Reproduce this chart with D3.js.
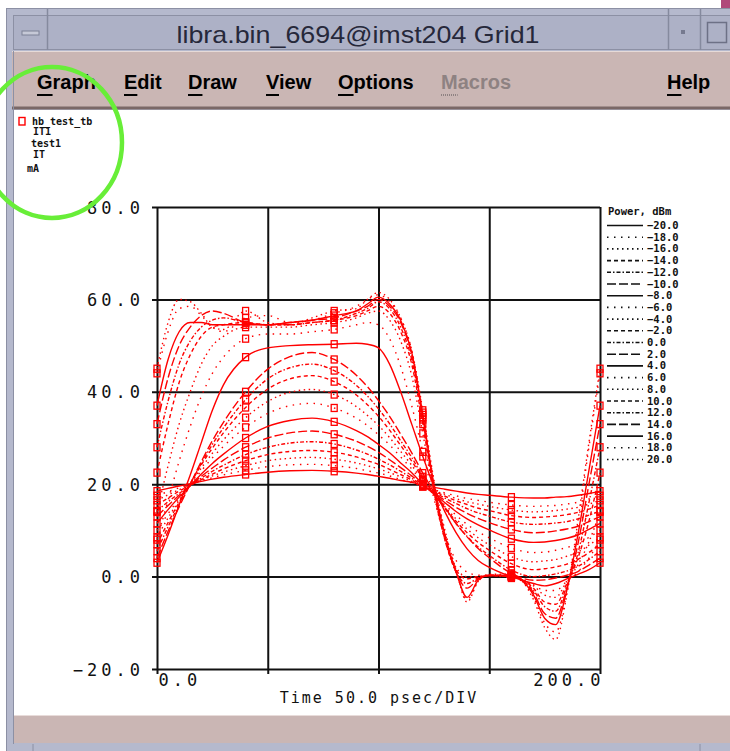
<!DOCTYPE html>
<html lang="en">
<head>
<meta charset="UTF-8">
<title>libra.bin_6694@imst204 Grid1</title>
<script src="https://cdn.jsdelivr.net/npm/d3@7"></script>
<style>
  body { margin: 0; background: #fff; }
  svg { display: block; }
  .mono { font-family: "DejaVu Sans Mono", monospace; font-weight: bold; fill: #111; }
</style>
</head>
<body>
<script>
// time axis (psec) shared by every curve
const timePs = [0,5,10,15,20,25,30,40,50,60,70,80,90,95,100,105,110,115,120,125,130,135,140,145,150,160,170,175,180,185,190,195,200];
// swept input power, dBm
const powerDbm = [-20,-18,-16,-14,-12,-10,-8,-6,-4,-2,0,2,4,6,8,10,12,14,16,18,20];
// IT current (mA), one row per power
const currentMA = [
  [18.5,19.1,19.6,20.1,20.6,21.1,21.5,22.1,22.6,22.9,23.0,22.8,22.4,22.1,21.7,21.3,20.8,20.4,19.8,19.3,18.9,18.5,18.1,17.8,17.6,17.2,17.0,17.0,17.2,17.3,17.6,18.0,18.5],
  [17.5,18.4,19.2,19.9,20.7,21.4,22.0,23.0,23.8,24.2,24.3,24.0,23.4,22.9,22.4,21.8,21.0,20.3,19.5,18.8,18.1,17.5,16.9,16.5,16.1,15.5,15.2,15.3,15.4,15.7,16.1,16.8,17.5],
  [16.5,17.7,18.8,19.8,20.9,21.8,22.6,24.0,25.1,25.6,25.8,25.4,24.6,24.0,23.3,22.5,21.6,20.6,19.5,18.6,17.8,16.9,16.2,15.7,15.2,14.4,14.0,14.1,14.3,14.6,15.0,15.7,16.5],
  [15.5,17.0,18.5,19.7,21.0,22.2,23.3,25.1,26.4,27.1,27.3,26.9,25.9,25.1,24.3,23.2,22.1,20.9,19.6,18.5,17.4,16.4,15.6,14.8,14.3,13.2,12.8,12.9,13.1,13.4,13.9,14.6,15.5],
  [14.2,16.2,18.0,19.6,21.3,22.8,24.1,26.4,28.0,28.9,29.2,28.7,27.4,26.5,25.4,24.2,22.8,21.3,19.7,18.3,17.0,15.8,14.7,13.8,13.1,11.8,11.3,11.4,11.6,11.9,12.5,13.3,14.2],
  [13.0,15.4,17.6,19.7,21.7,23.5,25.2,28.0,30.0,31.1,31.5,30.8,29.3,28.2,26.9,25.3,23.6,21.8,19.8,18.1,16.5,15.0,13.7,12.6,11.7,10.2,9.5,9.6,9.9,10.3,10.9,11.9,13.0],
  [11.5,14.5,17.2,19.7,22.2,24.5,26.5,30.0,32.5,33.8,34.3,33.5,31.6,30.3,28.6,26.8,24.6,22.5,20.0,17.9,16.0,14.1,12.5,11.2,10.1,8.2,7.4,7.5,7.8,8.3,9.0,10.2,11.5],
  [10.0,13.6,16.9,19.9,22.9,25.7,28.2,32.3,35.3,37.0,37.5,36.5,34.3,32.7,30.7,28.5,25.9,23.3,20.4,17.8,15.5,13.3,11.3,9.7,8.4,6.2,5.2,5.3,5.7,6.3,7.1,8.5,10.0],
  [8.5,12.7,16.5,20.0,23.5,26.7,29.6,34.4,37.9,39.9,40.5,39.4,36.8,34.9,32.7,30.1,27.1,24.1,20.7,17.7,15.1,12.5,10.3,8.4,6.9,4.3,3.2,3.4,3.7,4.4,5.3,6.8,8.5],
  [7.0,11.7,16.1,20.1,24.2,27.8,31.1,36.6,40.6,42.8,43.5,42.2,39.3,37.2,34.7,31.7,28.4,25.0,21.2,17.9,14.9,12.0,9.5,7.4,5.7,2.8,1.5,1.7,2.1,2.7,3.7,5.2,7.0],
  [5.5,10.8,15.6,20.1,24.5,28.6,32.2,38.3,42.8,45.2,46.0,44.6,41.4,39.1,36.3,33.1,29.4,25.8,21.6,17.9,14.7,11.5,8.7,6.4,4.6,1.4,0.0,0.2,0.6,1.2,2.2,3.7,5.5],
  [4.0,9.8,15.1,20.0,24.9,29.4,33.4,40.0,44.9,47.6,48.5,47.0,43.6,41.1,38.1,34.7,30.8,26.8,22.4,18.4,15.0,11.5,8.6,6.1,4.1,0.7,-0.8,-0.7,-0.3,0.3,1.1,2.5,4.0],
  [3.0,9.0,15.5,22.0,29.0,36.0,41.5,47.5,49.5,50.0,50.2,50.3,50.5,50.3,49.5,46.0,40.0,33.0,26.0,19.5,14.0,9.5,6.0,3.5,2.0,0.0,-1.5,-2.0,-1.5,-0.5,0.5,1.5,3.0],
  [8,16.5,25,32.5,39,44,47.5,51.5,52.5,52.5,53,53.5,54.5,55,54.5,51.5,45.5,37,27,17,9,3.5,1,0.3,0.2,-0.3,-1.8,-3,-3,-1,1,4,8],
  [14,24,33,40,46,50,52,54,54,54,54.5,55,56,57,57.5,55.5,51,43.5,31,18,8,2,0,0,0.3,0,-2,-4,-4.5,-1,2.5,7.5,14],
  [22.5,33,42,48,52,54,54.5,55,54.5,54.5,55,55.5,56.5,57.5,58.5,57,53,46,33,18.5,8,1.5,-0.5,0,0.2,0,-2.5,-5.5,-6,-1.5,4,12,22.5],
  [28,38,46,51,54,55.5,56,55,54.5,54.5,55,55.5,57,58,59.5,58,54,47,34,19,8,1,-1.5,-0.3,0.2,0,-3,-6.5,-7.5,-2,5,16,28],
  [33,43,50,54,56.5,57.5,57,55,54.5,55,55.5,56,57.5,58.5,60,58.5,55,48,34.5,19.5,8.5,1,-2.5,-0.5,0.3,0.2,-3.5,-8,-9,-2.5,7,20,33],
  [37,47,53,55,55,54.5,54.5,54.5,54.5,55,55.5,56.5,57.5,59,60.5,59,55.5,48.5,35,20,9,1,-4.5,-0.8,0.3,0.2,-4,-9,-10.4,-3,9,23,37],
  [44,53,58,58.5,56.5,54,53,56,56.5,55,55.5,57,58.5,60,61,59.5,56,49,35.5,20.5,9.5,1.5,-5,-1,0.3,0.3,-4.5,-10,-12,-3.5,11,28,44],
  [45,55,60,59.5,57,54,53.5,57.5,55,54.5,56,57.5,58,60,61.5,60,56,49,36,21,10,1.5,-5.5,-1,0.5,0.5,-5,-11,-13.6,-4,12,29,45]
];
const markerTimes = [0,40,80,120,160,200];
const yTicks = [-20,0,20,40,60,80];
const xTicks = [0,50,100,150,200];
const menuItems = ["Graph","Edit","Draw","View","Options","Macros","Help"];
const traceInfo = ["hb_test_tb","IT1","test1","IT","mA"];

// line style cycle used by the plotter
const dashes = ["", "1.5,5.5", "1.5,3.5", "4,3", "4,2,1.5,2", "9,3"];

const svg = d3.select("body").append("svg").attr("width", 730).attr("height", 751);

// ---- window chrome ----
svg.append("rect").attr("width", 730).attr("height", 751).attr("fill", "#fff");
svg.append("rect").attr("x", 721).attr("y", 0).attr("width", 9).attr("height", 22).attr("fill", "#b0487a");
svg.append("rect").attr("x", 6.5).attr("y", 8.5).attr("width", 730).attr("height", 745)
    .attr("fill", "#b5b9cd").attr("stroke", "#8c90a4");
svg.append("rect").attr("x", 13.5).attr("y", 15.5).attr("width", 720).attr("height", 34)
    .attr("fill", "#adb1c6").attr("stroke", "#8c90a4");
[47, 668, 700].forEach(function(px){
    svg.append("line").attr("x1", px + .5).attr("x2", px + .5).attr("y1", 9).attr("y2", 50)
        .attr("stroke", "#858a9e").attr("stroke-width", 1.5);
});
svg.append("rect").attr("x", 22).attr("y", 31).attr("width", 17).attr("height", 4)
    .attr("fill", "#c6c9d7").attr("stroke", "#7d8196");
svg.append("rect").attr("x", 681).attr("y", 30).attr("width", 4).attr("height", 4).attr("fill", "#767a8f");
svg.append("rect").attr("x", 707.5).attr("y", 22.5).attr("width", 19).attr("height", 20)
    .attr("fill", "none").attr("stroke", "#6d7186").attr("stroke-width", 1.5);
svg.append("text").attr("x", 358).attr("y", 43).attr("text-anchor", "middle")
    .attr("textLength", 363).attr("lengthAdjust", "spacingAndGlyphs")
    .style("font", "24px 'Liberation Sans', sans-serif").attr("fill", "#26283a")
    .text("libra.bin_6694@imst204 Grid1");

// menu bar
svg.append("rect").attr("x", 12).attr("y", 51).attr("width", 724).attr("height", 57).attr("fill", "#cab6b4");
svg.append("line").attr("x1", 12).attr("x2", 730).attr("y1", 51.5).attr("y2", 51.5).attr("stroke", "#e6dad8");
svg.append("line").attr("x1", 12).attr("x2", 730).attr("y1", 108).attr("y2", 108).attr("stroke", "#7a6867").attr("stroke-width", 3);
const menuX = [37, 124, 188, 266, 338, 441, 667];
menuItems.forEach(function(name, i){
    var grey = name === "Macros";
    var t = svg.append("text").attr("x", menuX[i]).attr("y", 89)
        .style("font", "bold 20px 'Liberation Sans', sans-serif")
        .attr("fill", grey ? "#8e8282" : "#000").text(name);
    var w = t.node().getSubStringLength(0, 1);
    svg.append("line").attr("x1", menuX[i]).attr("x2", menuX[i] + w).attr("y1", 95).attr("y2", 95)
        .attr("stroke", grey ? "#8e8282" : "#000").attr("stroke-width", 2)
        .attr("stroke-dasharray", grey ? "1,1" : null);
});

// plot canvas + status bar
svg.append("rect").attr("x", 14).attr("y", 110).attr("width", 722).attr("height", 605).attr("fill", "#fff");
svg.append("line").attr("x1", 13.5).attr("x2", 13.5).attr("y1", 51).attr("y2", 744).attr("stroke", "#8c90a4");
svg.append("rect").attr("x", 14).attr("y", 715).attr("width", 722).attr("height", 28).attr("fill", "#cab6b4");
svg.append("line").attr("x1", 14).attr("x2", 730).attr("y1", 715.5).attr("y2", 715.5).attr("stroke", "#e8dcda");
[33, 700].forEach(function(px){
    svg.append("line").attr("x1", px).attr("x2", px).attr("y1", 744).attr("y2", 751).attr("stroke", "#8c90a4");
});

// ---- chart ----
const x = d3.scaleLinear().domain([0, 200]).range([157, 600]);
const y = d3.scaleLinear().domain([-20, 80]).range([669, 207]);
const fmt = d3.format(".1f");

svg.append("g").attr("transform", "translate(152,0)")
    .call(d3.axisLeft(y).tickValues(yTicks).tickSizeInner(-448).tickSizeOuter(0).tickPadding(8).tickFormat(fmt))
    .call(function(g){
        g.select(".domain").remove();
        g.attr("color", "#111");
        g.selectAll("line").attr("stroke-width", 2);
        g.selectAll("text").attr("class", "mono").style("font-size", "17px").style("font-weight", "normal")
            .style("letter-spacing", "4px").attr("dy", "0.36em");
    });

svg.append("g").attr("transform", "translate(0,674)")
    .call(d3.axisBottom(x).tickValues(xTicks).tickSizeInner(-467).tickSizeOuter(0).tickPadding(0)
        .tickFormat(function(d){ return d === 0 || d === 200 ? fmt(d) : ""; }))
    .call(function(g){
        g.select(".domain").remove();
        g.attr("color", "#111");
        g.selectAll("line").attr("stroke-width", 2);
        g.selectAll("text").attr("class", "mono").style("font-size", "17px").style("font-weight", "normal")
            .style("letter-spacing", "4px")
            .attr("text-anchor", function(d){ return d === 0 ? "start" : "end"; })
            .attr("dx", function(d){ return d === 0 ? 1 : 4; });
    });

svg.append("text").attr("class", "mono").attr("x", 379).attr("y", 703).attr("text-anchor", "middle")
    .style("font-size", "15px").style("font-weight", "normal").style("letter-spacing", "2px")
    .text("Time 50.0 psec/DIV");

// curves
const line = d3.line()
    .x(function(d, i){ return x(timePs[i]); })
    .y(function(d){ return y(d); })
    .curve(d3.curveMonotoneX);

svg.append("g").selectAll("path")
    .data(currentMA)
    .enter().append("path")
        .attr("d", line)
        .attr("fill", "none")
        .attr("stroke", "#f00")
        .attr("stroke-width", 1.4)
        .attr("stroke-dasharray", function(d, k){ return dashes[k % 6] || null; });

// square markers
const markIdx = markerTimes.map(function(t){ return timePs.indexOf(t); });
svg.append("g").selectAll("g")
    .data(currentMA)
    .enter().append("g")
    .selectAll("rect")
        .data(function(row){ return markIdx.map(function(i){ return [timePs[i], row[i]]; }); })
        .enter().append("rect")
            .attr("x", function(d){ return x(d[0]) - 3; })
            .attr("y", function(d){ return y(d[1]) - 3.5; })
            .attr("width", 6).attr("height", 7)
            .attr("fill", "none").attr("stroke", "#f00").attr("stroke-width", 1.3);

// power legend
svg.append("text").attr("class", "mono").attr("x", 608).attr("y", 215)
    .style("font-size", "10.5px").text("Power, dBm");
const leg = svg.append("g").selectAll("g")
    .data(powerDbm)
    .enter().append("g")
        .attr("transform", function(d, i){ return "translate(0," + (225.5 + i * 11.7) + ")"; });
leg.append("line").attr("x1", 607).attr("x2", 643).attr("stroke", "#111").attr("stroke-width", 1.6)
    .attr("stroke-dasharray", function(d, i){ return dashes[i % 6] || null; });
leg.append("text").attr("class", "mono").attr("x", 647).attr("y", 3.5)
    .style("font-size", "10.5px").text(function(d){ return fmt(d); });

// trace info, top left
svg.append("rect").attr("x", 19).attr("y", 117.5).attr("width", 6).attr("height", 7.5)
    .attr("fill", "none").attr("stroke", "#f00").attr("stroke-width", 1.4);
const infoPos = [[32, 125], [33, 135], [31, 147], [33, 158], [27, 172]];
traceInfo.forEach(function(s, i){
    svg.append("text").attr("class", "mono").attr("x", infoPos[i][0]).attr("y", infoPos[i][1])
        .style("font-size", "10px").text(s);
});

// green annotation ring
svg.append("ellipse").attr("cx", 52).attr("cy", 142.5).attr("rx", 70).attr("ry", 75.5)
    .attr("fill", "none").attr("stroke", "#68ee38").attr("stroke-width", 4.5);
</script>
</body>
</html>
